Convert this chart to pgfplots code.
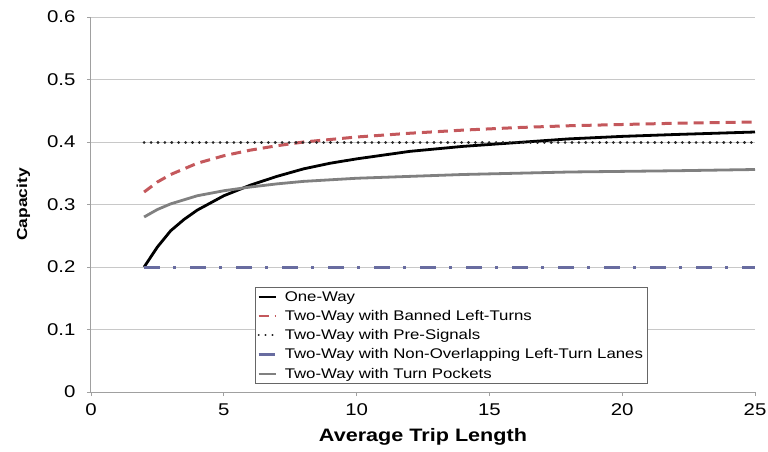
\documentclass[border=0pt]{standalone}
\usepackage{pgfplots}
\pgfplotsset{compat=1.18}
\usepackage{fontspec}
\setmainfont{Liberation Sans}[FakeStretch=1.2]

\definecolor{banred}{RGB}{196,88,92}
\definecolor{nolblue}{RGB}{104,108,160}
\definecolor{pocketgray}{RGB}{128,128,128}
\definecolor{gridgray}{RGB}{200,200,200}

\begin{document}
\begin{tikzpicture}
\begin{axis}[
  scale only axis,
  width=664pt, height=375pt,
  xmin=0, xmax=25, ymin=0, ymax=0.6,
  xtick={0,5,...,25},
  ytick={0,0.1,...,0.6},
  axis x line=bottom, axis y line=left,
  axis line style={gridgray!80!black, line width=1pt, -},
  tick align=outside, major tick length=4pt,
  tick style={gridgray!80!black, line width=0.8pt},
  ymajorgrids=true,
  grid style={gridgray, line width=1pt},
  /pgf/number format/assume math mode=true,
  yticklabel style={/pgf/number format/fixed, /pgf/number format/precision=1, font=\fontsize{17}{19}\selectfont, xshift=-8pt},
  xticklabel style={font=\fontsize{17}{19}\selectfont, yshift=-4pt},
  xlabel={\textbf{Average Trip Length}},
  ylabel={\textbf{Capacity}},
  xlabel style={font=\fontsize{18}{20}\selectfont, yshift=-6pt},
  ylabel style={font=\fontsize{14.5}{17}\selectfont, yshift=10pt},
  legend style={at={(164pt,8pt)}, anchor=south west, font=\fontsize{14}{16}\selectfont,
    draw=black!60, line width=1pt, inner sep=2pt, row sep=3.5pt,
    legend cell align=left},
  legend image post style={line width=2.2pt},
  /tikz/every odd column/.append style={column sep=6pt},
]
% One-Way
\addplot[black, line width=2.8pt] coordinates {
(2,0.200)(2.5,0.232)(3,0.258)(3.5,0.276)(4,0.291)(5,0.314)(6,0.331)(7,0.345)(8,0.357)(9,0.366)(10,0.373)(12,0.385)(14,0.393)(16,0.399)(18,0.405)(20,0.409)(22,0.412)(25,0.416)};
\addlegendentry{One-Way}
% Banned left turns
\addplot[banred, line width=3pt, dash pattern=on 10pt off 6pt] coordinates {
(2,0.320)(2.5,0.336)(3,0.348)(4,0.366)(5,0.378)(6,0.387)(7,0.394)(8,0.400)(9,0.404)(10,0.408)(12,0.414)(14,0.419)(16,0.423)(18,0.426)(20,0.428)(22,0.430)(25,0.432)};
\addlegendentry{Two-Way with Banned Left-Turns}
% Pre-signals
\addplot[black!85, line width=3pt, line cap=round, dash pattern=on 0.1pt off 6.8pt] coordinates {
(2,0.4)(25,0.4)};
\addlegendentry{Two-Way with Pre-Signals}
% Non-overlapping left-turn lanes
\addplot[nolblue, line width=3pt, dash pattern=on 16pt off 13pt on 3pt off 14pt] coordinates {
(2,0.2)(25,0.2)};
\addlegendentry{Two-Way with Non-Overlapping Left-Turn Lanes}
% Turn pockets
\addplot[pocketgray, line width=2.8pt] coordinates {
(2,0.280)(2.5,0.292)(3,0.301)(4,0.314)(5,0.322)(6,0.328)(7,0.333)(8,0.337)(10,0.342)(12,0.345)(14,0.348)(16,0.350)(18,0.352)(20,0.353)(22,0.354)(25,0.356)};
\addlegendentry{Two-Way with Turn Pockets}
\end{axis}
\pgfresetboundingbox
\path[use as bounding box] (-91pt,-59pt) rectangle (677pt,392pt);
\end{tikzpicture}
\end{document}
